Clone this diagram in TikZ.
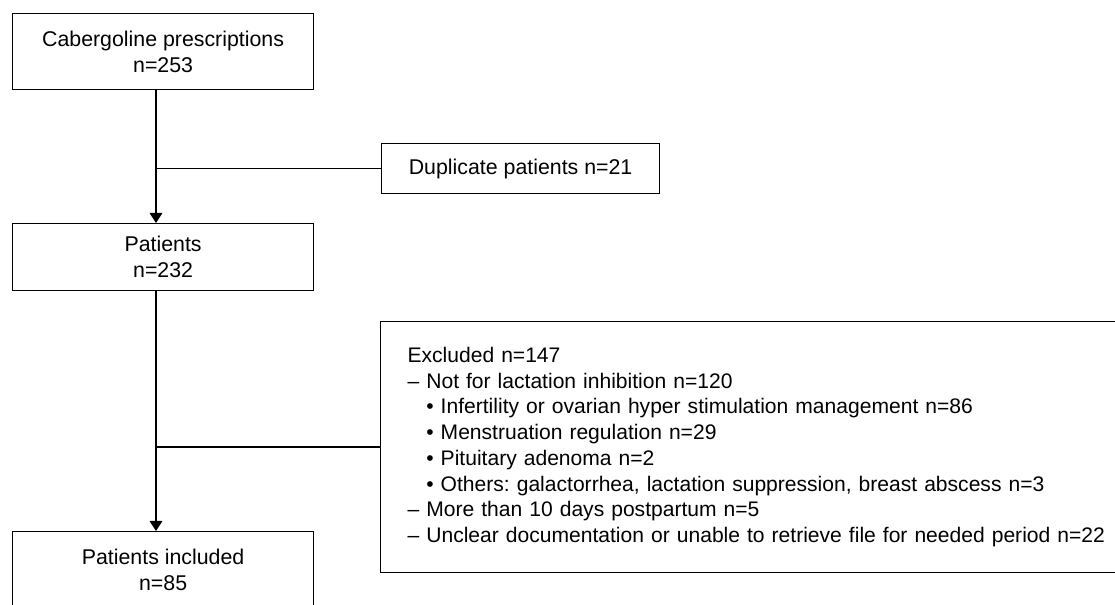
\documentclass[tikz,border=0pt]{standalone}
\usepackage{fontspec}
\setmainfont{Liberation Sans}
\usetikzlibrary{arrows.meta}
\begin{document}
\frenchspacing
\begin{tikzpicture}[x=0.75pt,y=-0.75pt,line width=0.9pt,
  txt/.style={font=\fontsize{16pt}{19.3pt}\selectfont},
  listtxt/.style={font=\fontsize{15.8pt}{19.3pt}\selectfont},
  box/.style={draw, rectangle, inner sep=0pt, minimum width=225.75pt, minimum height=57pt, align=center, txt},
  sidebox/.style={draw, rectangle, inner sep=0pt, minimum width=208.5pt, minimum height=37.5pt, txt},
  flow/.style={-{Triangle[length=7.5pt,width=9.5pt]}},
  link/.style={}]
\clip (0,0) rectangle (1115,605);
\fill[white] (0,0) rectangle (1115,605);
\coordinate (spine) at (156,0);
\node[box, anchor=north west] (b1) at (12,13) {Cabergoline prescriptions\\n=253};
\node[sidebox, anchor=north west] (dup) at (381,143) {Duplicate patients n=21};
\node[box, anchor=north west, minimum height=50.25pt] (b2) at (12,223) {Patients\\n=232};
\node[draw, rectangle, anchor=north west, inner xsep=20.25pt, inner ysep=0pt,
      minimum height=188.25pt, text width=570pt, align=left, listtxt] (excl) at (380,321)
  {Excluded n=147\\
   – Not for lactation inhibition n=120\\
   \phantom{– }• Infertility or ovarian hyper stimulation management n=86\\
   \phantom{– }• Menstruation regulation n=29\\
   \phantom{– }• Pituitary adenoma n=2\\
   \phantom{– }• Others: galactorrhea, lactation suppression, breast abscess n=3\\
   – More than 10 days postpartum n=5\\
   – Unclear documentation or unable to retrieve file for needed period n=22};
\node[box, anchor=north west] (b3) at (12,531) {Patients included\\n=85};
\draw[flow] (b1.south -| spine) -- (b2.north -| spine);
\draw[link] (dup.west -| spine) -- (dup.west);
\draw[flow] (b2.south -| spine) -- (b3.north -| spine);
\draw[link] (excl.west -| spine) -- (excl.west);
\end{tikzpicture}
\end{document}
